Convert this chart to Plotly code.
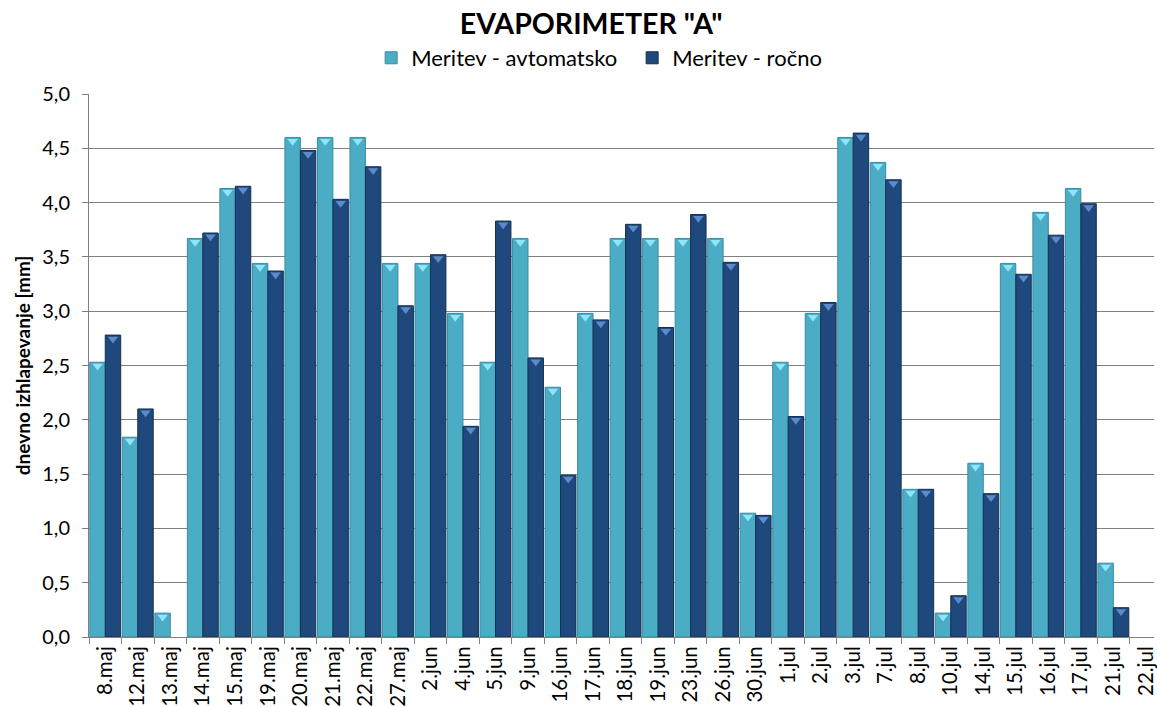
import plotly.graph_objects as go

# Measurement days
dates = [
    "8.maj", "12.maj", "13.maj", "14.maj", "15.maj", "19.maj", "20.maj", "21.maj",
    "22.maj", "27.maj", "2.jun", "4.jun", "5.jun", "9.jun", "16.jun", "17.jun",
    "18.jun", "19.jun", "23.jun", "26.jun", "30.jun", "1.jul", "2.jul", "3.jul",
    "7.jul", "8.jul", "10.jul", "14.jul", "15.jul", "16.jul", "17.jul", "21.jul",
    "22.jul",
]

# Daily evaporation [mm], automatic station
avtomatsko = [
    2.53, 1.84, 0.22, 3.67, 4.13, 3.44, 4.60, 4.60,
    4.60, 3.44, 3.44, 2.98, 2.53, 3.67, 2.30, 2.98,
    3.67, 3.67, 3.67, 3.67, 1.14, 2.53, 2.98, 4.60,
    4.37, 1.36, 0.22, 1.60, 3.44, 3.91, 4.13, 0.68,
    None,
]

# Daily evaporation [mm], manual reading
rocno = [
    2.78, 2.10, None, 3.72, 4.15, 3.37, 4.48, 4.03,
    4.33, 3.05, 3.52, 1.94, 3.83, 2.57, 1.49, 2.92,
    3.80, 2.85, 3.89, 3.45, 1.12, 2.03, 3.08, 4.64,
    4.21, 1.36, 0.38, 1.32, 3.34, 3.70, 3.99, 0.27,
    None,
]

y_tick_vals = [0.0, 0.5, 1.0, 1.5, 2.0, 2.5, 3.0, 3.5, 4.0, 4.5, 5.0]
y_tick_text = ["0,0", "0,5", "1,0", "1,5", "2,0", "2,5", "3,0", "3,5", "4,0", "4,5", "5,0"]

FONT = "Lato"
LIGHT = "#4BACC6"
LIGHT_EDGE = "#3A8CA3"
LIGHT_BEVEL = "#8EE6F8"
DARK = "#1F497D"
DARK_EDGE = "#12304F"
DARK_BEVEL = "#5C8ACB"
AXIS = "#808080"

BARGAP = 0.05
X_RANGE = [-0.5, 32.25]

fig = go.Figure()

fig.add_bar(
    x=dates, y=avtomatsko, name="Meritev - avtomatsko",
    marker=dict(color=LIGHT, line=dict(color=LIGHT_EDGE, width=1)),
)
fig.add_bar(
    x=dates, y=rocno, name="Meritev - ročno",
    marker=dict(color=DARK, line=dict(color=DARK_EDGE, width=1)),
)

# Bevelled caps on top of every bar (drawn on a hidden numeric twin axis)
half = (1 - BARGAP) / 4
idx = list(range(len(dates)))
cap_drop = 0.035
for values, offset, colour in ((avtomatsko, -half, LIGHT_BEVEL), (rocno, half, DARK_BEVEL)):
    fig.add_scatter(
        x=[i + offset for i in idx],
        y=[None if v is None else v - cap_drop for v in values],
        mode="markers",
        xaxis="x2",
        marker=dict(symbol="triangle-down", size=9, color=colour, line=dict(width=0)),
        showlegend=False,
        hoverinfo="skip",
    )

fig.update_layout(
    width=1157,
    height=707,
    margin=dict(l=89, r=0, t=94, b=70),
    paper_bgcolor="white",
    plot_bgcolor="white",
    font=dict(family=FONT, color="#000000"),
    barmode="group",
    bargap=BARGAP,
    bargroupgap=0.0,
    title=dict(
        text="<b>EVAPORIMETER \"A\"</b>",
        font=dict(family=FONT, size=28.5, color="#000000"),
        xref="container", x=0.511, xanchor="center",
        yref="container", y=1 - 24 / 707, yanchor="middle",
    ),
    legend=dict(
        orientation="h",
        x=0.51, xanchor="center",
        y=1.105, yanchor="top",
        font=dict(family=FONT, size=22),
        bgcolor="rgba(0,0,0,0)",
        itemwidth=30,
        entrywidth=216,
    ),
    xaxis=dict(
        type="category",
        range=X_RANGE,
        tickson="boundaries",
        ticks="outside",
        ticklen=6,
        tickcolor=AXIS,
        tickwidth=1,
        showline=True,
        linecolor=AXIS,
        linewidth=1,
        showgrid=False,
        tickangle=-90,
        tickfont=dict(family=FONT, size=20.5),
        fixedrange=True,
    ),
    xaxis2=dict(
        overlaying="x",
        range=X_RANGE,
        visible=False,
        fixedrange=True,
    ),
    yaxis=dict(
        range=[0, 5],
        tickmode="array",
        tickvals=y_tick_vals,
        ticktext=y_tick_text,
        ticks="outside",
        ticklen=6,
        tickcolor=AXIS,
        ticklabelstandoff=8,
        showline=True,
        linecolor=AXIS,
        linewidth=1,
        showgrid=True,
        gridcolor=AXIS,
        gridwidth=1,
        zeroline=False,
        tickfont=dict(family=FONT, size=20),
        title=dict(
            text="<b>dnevno izhlapevanje [mm]</b>",
            font=dict(family=FONT, size=19),
            standoff=6,
        ),
        fixedrange=True,
    ),
)

fig.write_html("out.html")
